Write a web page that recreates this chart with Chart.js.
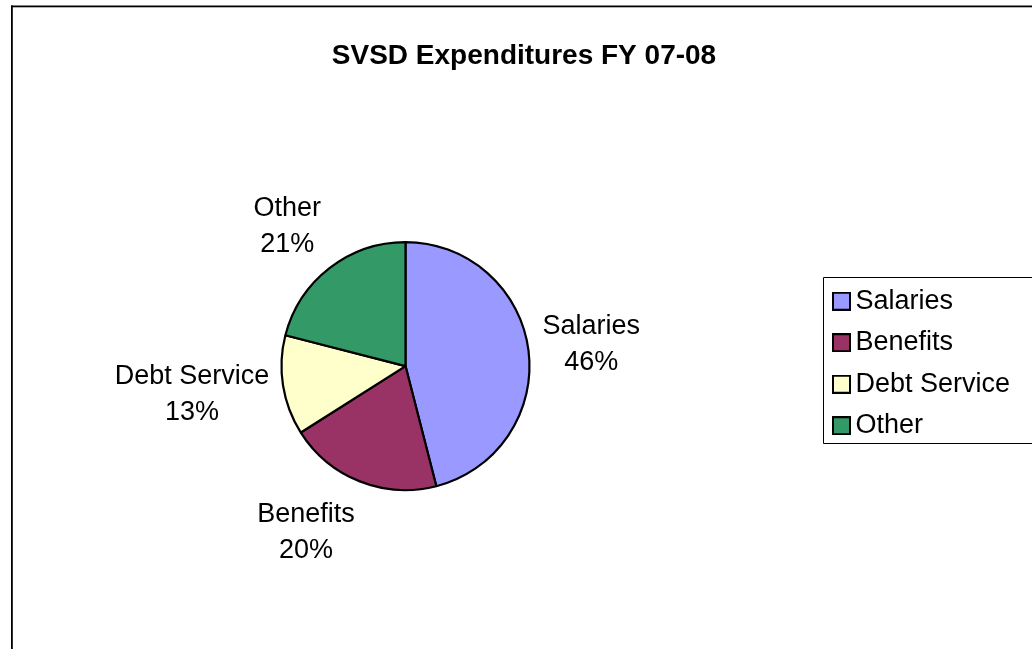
<!DOCTYPE html>
<html><head><meta charset="utf-8">
<script src="https://cdn.jsdelivr.net/npm/chart.js@4/dist/chart.umd.min.js"></script>
<style>html,body{margin:0;padding:0;background:#fff;overflow:hidden;} #wrap{width:1032px;height:649px;position:relative;}</style>
</head><body><div id="wrap"><canvas id="c"></canvas></div>
<script>
const categories = ['Salaries', 'Benefits', 'Debt Service', 'Other'];
const shares = [46, 20, 13, 21];
const sliceColors = ['#9999FF', '#993366', '#FFFFCC', '#339966'];
const chartTitle = 'SVSD Expenditures FY 07-08';

const FONT = '"Liberation Sans", Arial, Helvetica, sans-serif';
const LABEL_SIZE = 27;

// legend swatch images (19px squares with black border)
const swatches = sliceColors.map(c => {
  const cv = document.createElement('canvas');
  cv.width = 19; cv.height = 19;
  const g = cv.getContext('2d');
  g.fillStyle = '#000'; g.fillRect(0, 0, 19, 19);
  g.fillStyle = c; g.fillRect(2, 2, 15, 15);
  return cv;
});

const framePlugin = {
  id: 'frame',
  beforeDraw(chart) {
    const ctx = chart.ctx;
    ctx.save();
    ctx.fillStyle = '#fff';
    ctx.fillRect(0, 0, chart.width, chart.height);
    ctx.fillStyle = '#000';
    ctx.fillRect(11, 5.5, chart.width, 1.8);
    ctx.fillRect(11, 5.5, 1.8, chart.height);
    ctx.restore();
  }
};

const layoutFix = {
  id: 'layoutFix',
  afterLayout(chart) {
    const ca = chart.chartArea;
    const lg = chart.legend;
    const w = lg.width;
    lg.left = 826.5; lg.right = lg.left + w;
    lg.top += 44.7; lg.bottom += 44.7;
    ca.left = 16; ca.right = 2 * 405.5 - ca.left; ca.width = ca.right - ca.left;
  }
};

const legendFrame = {
  id: 'legendFrame',
  afterDraw(chart) {
    const hb = chart.legend.legendHitBoxes;
    if (!hb || !hb.length) return;
    const first = hb[0], last = hb[hb.length - 1];
    const ctx = chart.ctx;
    const left = Math.round(first.left - 18) + 0.5;
    const top = Math.round(first.top - 10.5) + 0.5;
    const bottom = Math.round(last.top + 30.5) + 0.5;
    ctx.save();
    ctx.strokeStyle = '#000';
    ctx.lineWidth = 1;
    ctx.beginPath();
    ctx.moveTo(chart.width + 5, top);
    ctx.lineTo(left, top);
    ctx.lineTo(left, bottom);
    ctx.lineTo(chart.width + 5, bottom);
    ctx.stroke();
    ctx.restore();
  }
};

const pieLabels = {
  id: 'pieLabels',
  afterDatasetsDraw(chart) {
    const meta = chart.getDatasetMeta(0);
    const data = chart.data.datasets[0].data;
    const total = data.reduce((a, b) => a + b, 0);
    const ctx = chart.ctx;
    ctx.save();
    ctx.font = LABEL_SIZE + 'px ' + FONT;
    ctx.fillStyle = '#000';
    ctx.textAlign = 'center';
    ctx.textBaseline = 'middle';
    const lineH = 36;
    meta.data.forEach((arc, i) => {
      const p = arc.getProps(['x', 'y', 'startAngle', 'endAngle', 'outerRadius'], true);
      const mid = (p.startAngle + p.endAngle) / 2;
      const cs = Math.cos(mid), sn = Math.sin(mid);
      const d = p.outerRadius + 14;
      const ax = p.x + cs * d, ay = p.y + sn * d;
      const lines = [chart.data.labels[i], Math.round(data[i] / total * 100) + '%'];
      const halfW = Math.max(...lines.map(t => ctx.measureText(t).width)) / 2;
      const halfH = lineH;
      const fx = Math.max(-1, Math.min(1, cs * 3));
      const fy = Math.max(-1.1, Math.min(1.1, sn * 1.12));
      const cx = ax + fx * halfW;
      const cy = ay + fy * halfH + 1;
      ctx.fillText(lines[0], cx, cy - lineH / 2);
      ctx.fillText(lines[1], cx, cy + lineH / 2);
    });
    ctx.restore();
  }
};

new Chart(document.getElementById('c'), {
  type: 'pie',
  data: {
    labels: categories,
    datasets: [{
      data: shares,
      backgroundColor: sliceColors,
      borderColor: '#000',
      borderWidth: 2.2,
      radius: 124
    }]
  },
  options: {
    responsive: true,
    maintainAspectRatio: false,
    animation: false,
    devicePixelRatio: 1,
    events: [],
    layout: { padding: { left: 16, right: 0, top: 8.5, bottom: 20 } },
    plugins: {
      tooltip: { enabled: false },
      title: {
        display: true,
        text: chartTitle,
        color: '#000',
        font: { family: FONT, size: 28, weight: 'bold' },
        padding: { top: 31, bottom: 30.1 }
      },
      legend: {
        display: true,
        position: 'right',
        labels: {
          usePointStyle: true,
          pointStyleWidth: 1,
          padding: 14.5,
          color: '#000',
          font: { family: FONT, size: LABEL_SIZE },
          generateLabels(chart) {
            return chart.data.labels.map((t, i) => ({
              text: t,
              fillStyle: sliceColors[i],
              strokeStyle: '#000',
              lineWidth: 2,
              pointStyle: swatches[i],
              hidden: false,
              index: i,
              fontColor: '#000'
            }));
          }
        }
      }
    }
  },
  plugins: [framePlugin, layoutFix, legendFrame, pieLabels]
});
</script>
</body></html>
